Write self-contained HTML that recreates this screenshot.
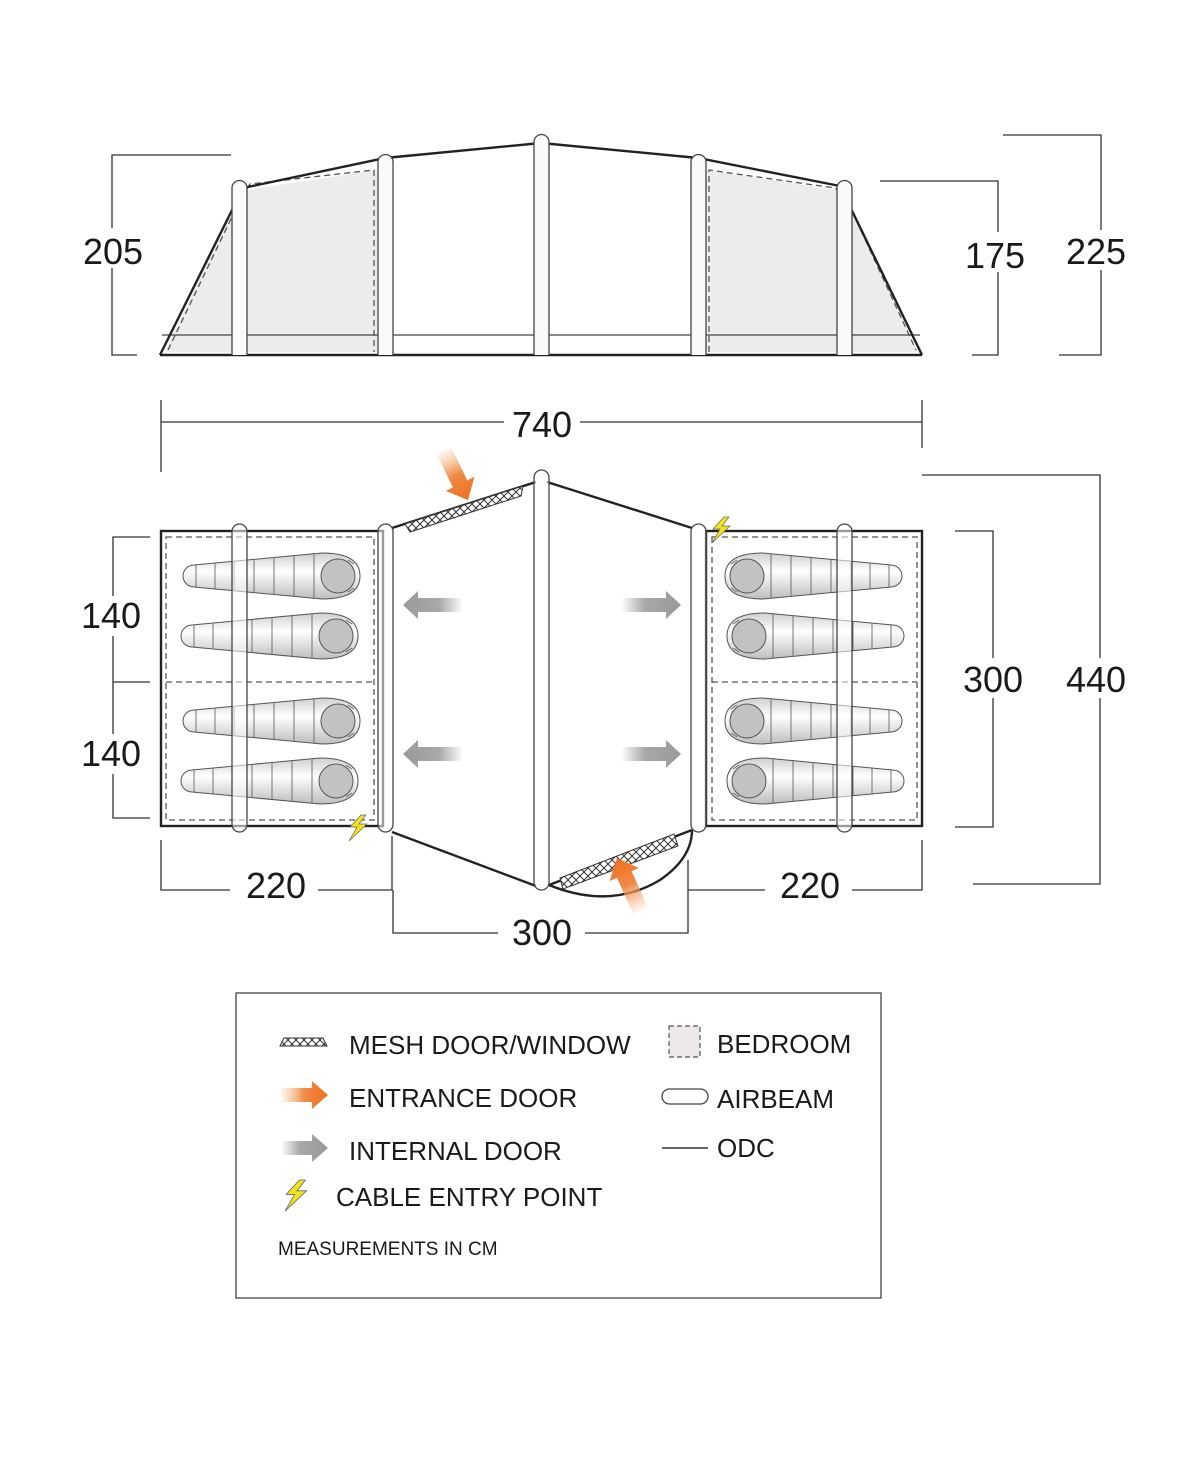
<!DOCTYPE html>
<html><head><meta charset="utf-8"><style>
html,body{margin:0;padding:0;background:#fff;}
svg{display:block;}
text{font-family:"Liberation Sans",sans-serif;fill:#1a1a1a;}
</style></head><body>
<svg width="1200" height="1464" viewBox="0 0 1200 1464" xmlns="http://www.w3.org/2000/svg">
<defs>
<linearGradient id="bagv" x1="0" y1="0" x2="0" y2="1"><stop offset="0" stop-color="#cfcfcf"/><stop offset="0.4" stop-color="#fff"/><stop offset="1" stop-color="#bdbdbd"/></linearGradient>
<linearGradient id="greyL" x1="0" y1="0" x2="1" y2="0"><stop offset="0" stop-color="#9a9a9a"/><stop offset="0.6" stop-color="#a8a8a8"/><stop offset="1" stop-color="#a8a8a8" stop-opacity="0"/></linearGradient>
<linearGradient id="greyR" x1="1" y1="0" x2="0" y2="0"><stop offset="0" stop-color="#9a9a9a"/><stop offset="0.6" stop-color="#a8a8a8"/><stop offset="1" stop-color="#a8a8a8" stop-opacity="0"/></linearGradient>
<linearGradient id="orR" x1="1" y1="0" x2="0" y2="0"><stop offset="0" stop-color="#ee6f1f"/><stop offset="0.5" stop-color="#f08a45"/><stop offset="1" stop-color="#f6b27f" stop-opacity="0.1"/></linearGradient>
<linearGradient id="orL" x1="0" y1="0" x2="1" y2="0"><stop offset="0" stop-color="#ee6f1f"/><stop offset="0.5" stop-color="#f08a45"/><stop offset="1" stop-color="#f6b27f" stop-opacity="0.1"/></linearGradient>
<pattern id="mesh" width="8" height="8" patternUnits="userSpaceOnUse">
<rect width="8" height="8" fill="#fff"/><path d="M0,0 L8,8 M8,0 L0,8" stroke="#333" stroke-width="1"/></pattern>
<g id="bag">
<path d="M12,-11 L140,-23 Q178,-23 178,0 Q178,23 140,23 L12,11 A11,11 0 0 1 12,-11 Z" fill="url(#bagv)" stroke="#555" stroke-width="1"/>
<g stroke="#666" stroke-width="0.9">
<line x1="14" y1="-11" x2="14" y2="11"/><line x1="33" y1="-13" x2="33" y2="13"/><line x1="52" y1="-15" x2="52" y2="15"/>
<line x1="72" y1="-17" x2="72" y2="17"/><line x1="92" y1="-19" x2="92" y2="19"/><line x1="112" y1="-21" x2="112" y2="21"/><line x1="132" y1="-22" x2="132" y2="22"/></g>
<circle cx="156" cy="0" r="17" fill="#c2c2c2" stroke="#555" stroke-width="1"/>
<path d="M166,-16 L172,-12 M166,16 L172,12" stroke="#666" stroke-width="0.9"/>
</g>
<g id="garrL"><path d="M403,0 L418,-14 L418,-7 L463,-7 L463,7 L418,7 L418,14 Z" fill="url(#greyL)"/></g>
<g id="bolt"><path d="M12,0 L1,12 L8,12 L0,26 L18,9 L10,9 L17,0 Z" fill="#f2e418" stroke="#666" stroke-width="0.7"/></g>
</defs>

<!-- ELEVATION -->
<path d="M165,352 L240,192 L247,190 L377,170 L377,352 Z" fill="#ececec"/>
<path d="M706,170 L837,190 L845,194 L918,352 L706,352 Z" fill="#ececec"/>
<path d="M168,350 L242,196 L250,184 L374,170 L374,352" fill="none" stroke="#555" stroke-width="1.3" stroke-dasharray="6,4"/>
<path d="M709,352 L709,170 L835,188 L846,198 L916,350" fill="none" stroke="#555" stroke-width="1.3" stroke-dasharray="6,4"/>
<line x1="162" y1="335" x2="920" y2="335" stroke="#444" stroke-width="1.2"/>
<path d="M160,355 L243,188 L385,158 L541,143 L698,158 L840,186 L922,355" fill="none" stroke="#222" stroke-width="2.4"/>
<line x1="160" y1="355" x2="922" y2="355" stroke="#222" stroke-width="2.4"/>
<g fill="#fafafa" stroke="#444" stroke-width="1.3">
<path d="M232,355 L232,188 A7.5,7.5 0 0 1 247,188 L247,355"/>
<path d="M378,355 L378,162 A7.5,7.5 0 0 1 393,162 L393,355"/>
<path d="M534,355 L534,142 A7.5,7.5 0 0 1 549,142 L549,355"/>
<path d="M691,355 L691,162 A7.5,7.5 0 0 1 706,162 L706,355"/>
<path d="M837,355 L837,188 A7.5,7.5 0 0 1 852,188 L852,355"/>
</g>

<!-- dims elevation -->
<g stroke="#333" stroke-width="1.3" fill="none">
<path d="M231,155 L112,155 L112,355 L137,355"/>
<path d="M880,181 L998,181 L998,355 L972,355"/>
<path d="M1003,135 L1101,135 L1101,355 L1059,355"/>
<path d="M161,400 L161,472 M922,400 L922,448 M161,422 L504,422 M580,422 L922,422"/>
</g>
<rect x="100" y="228" width="50" height="40" fill="#fff"/>
<text x="113" y="264" font-size="36" text-anchor="middle">205</text>
<rect x="975" y="232" width="50" height="40" fill="#fff"/>
<text x="995" y="268" font-size="36" text-anchor="middle">175</text>
<rect x="1070" y="230" width="55" height="40" fill="#fff"/>
<text x="1096" y="264" font-size="36" text-anchor="middle">225</text>
<text x="542" y="437" font-size="36" text-anchor="middle">740</text>

<!-- PLAN -->
<rect x="161" y="531" width="222" height="295" fill="#fff" stroke="#222" stroke-width="2.4"/>
<rect x="706" y="531" width="216" height="295" fill="#fff" stroke="#222" stroke-width="2.4"/>
<rect x="166" y="537" width="208" height="283" fill="none" stroke="#555" stroke-width="1.3" stroke-dasharray="6,4"/>
<line x1="166" y1="682" x2="374" y2="682" stroke="#555" stroke-width="1.3" stroke-dasharray="6,4"/>
<rect x="712" y="537" width="205" height="283" fill="none" stroke="#555" stroke-width="1.3" stroke-dasharray="6,4"/>
<line x1="712" y1="682" x2="917" y2="682" stroke="#555" stroke-width="1.3" stroke-dasharray="6,4"/>

<g transform="translate(182,576)"><use href="#bag"/></g>
<g transform="translate(180,636)"><use href="#bag"/></g>
<g transform="translate(182,721)"><use href="#bag"/></g>
<g transform="translate(180,781)"><use href="#bag"/></g>
<g transform="translate(903,576) scale(-1,1)"><use href="#bag"/></g>
<g transform="translate(905,636) scale(-1,1)"><use href="#bag"/></g>
<g transform="translate(903,721) scale(-1,1)"><use href="#bag"/></g>
<g transform="translate(905,781) scale(-1,1)"><use href="#bag"/></g>

<!-- walls -->
<g stroke="#222" stroke-width="2.4" fill="none">
<path d="M392,528 L536,482"/><path d="M547,482 L692,528"/>
<path d="M392,832 L536,886"/><path d="M549,885 L692,830"/>
<path d="M549,885 Q610,910 660,880 Q692,858 692,830"/>
</g>
<polygon points="405,524 523,486 521,496 410,532" fill="url(#mesh)" stroke="#333" stroke-width="1"/>
<polygon points="560,878 674,834 678,846 563,889" fill="url(#mesh)" stroke="#333" stroke-width="1"/>

<!-- beams plan -->
<g fill="#fff" fill-opacity="0.55" stroke="#444" stroke-width="1.3">
<rect x="232" y="524" width="15" height="308" rx="7.5"/>
<rect x="378" y="524" width="15" height="308" rx="7.5"/>
<rect x="534" y="470" width="15" height="420" rx="7.5"/>
<rect x="691" y="524" width="15" height="308" rx="7.5"/>
<rect x="837" y="524" width="15" height="308" rx="7.5"/>
</g>

<!-- grey arrows -->
<g transform="translate(0,605)"><use href="#garrL"/></g>
<g transform="translate(0,754)"><use href="#garrL"/></g>
<g transform="translate(1084,605) scale(-1,1)"><use href="#garrL"/></g>
<g transform="translate(1084,754) scale(-1,1)"><use href="#garrL"/></g>

<!-- orange arrows -->
<g transform="translate(468,500) rotate(-116)"><path d="M0,0 L18,-16 L18,-8 L55,-8 L55,8 L18,8 L18,16 Z" fill="url(#orL)"/></g>
<g transform="translate(617,858) rotate(66)"><path d="M0,0 L18,-16 L18,-8 L58,-8 L58,8 L18,8 L18,16 Z" fill="url(#orL)"/></g>

<g transform="translate(349,815)"><use href="#bolt"/></g>
<g transform="translate(712,517)"><use href="#bolt"/></g>

<!-- plan dims -->
<g stroke="#333" stroke-width="1.3" fill="none">
<path d="M150,537 L113,537 L113,818 L150,818 M113,682 L150,682"/>
<path d="M955,531 L993,531 L993,827 L955,827"/>
<path d="M922,475 L1100,475 L1100,884 L973,884"/>
<path d="M161,840 L161,890 L230,890 M318,890 L392,890 L392,836"/>
<path d="M688,860 L688,890 L765,890 M852,890 L922,890 L922,840"/>
<path d="M393,890 L393,933 L498,933 M585,933 L688,933 L688,890"/>
</g>
<rect x="90" y="596" width="48" height="40" fill="#fff"/>
<text x="111" y="628" font-size="36" text-anchor="middle">140</text>
<rect x="90" y="734" width="48" height="40" fill="#fff"/>
<text x="111" y="766" font-size="36" text-anchor="middle">140</text>
<rect x="960" y="658" width="66" height="40" fill="#fff"/>
<text x="993" y="692" font-size="36" text-anchor="middle">300</text>
<rect x="1066" y="658" width="66" height="40" fill="#fff"/>
<text x="1096" y="692" font-size="36" text-anchor="middle">440</text>
<text x="276" y="898" font-size="36" text-anchor="middle">220</text>
<text x="810" y="898" font-size="36" text-anchor="middle">220</text>
<text x="542" y="945" font-size="36" text-anchor="middle">300</text>

<!-- LEGEND -->
<rect x="236" y="993" width="645" height="305" fill="none" stroke="#444" stroke-width="1.3"/>
<polygon points="280,1046 284,1038 323,1038 327,1046" fill="url(#mesh)" stroke="#333" stroke-width="1"/>
<text x="349" y="1054" font-size="26">MESH DOOR/WINDOW</text>
<path d="M281,1088 L312,1088 L312,1081 L328,1095 L312,1109 L312,1102 L281,1102 Z" fill="url(#orR)"/>
<text x="349" y="1107" font-size="26">ENTRANCE DOOR</text>
<path d="M281,1141 L312,1141 L312,1134 L328,1148 L312,1162 L312,1155 L281,1155 Z" fill="url(#greyR)"/>
<text x="349" y="1160" font-size="26">INTERNAL DOOR</text>
<g transform="translate(285,1180) scale(1.2)"><use href="#bolt"/></g>
<text x="336" y="1206" font-size="26">CABLE ENTRY POINT</text>
<text x="278" y="1255" font-size="19">MEASUREMENTS IN CM</text>
<rect x="669" y="1026" width="31" height="31" fill="#ece8ea" stroke="#555" stroke-width="1.2" stroke-dasharray="5,3"/>
<text x="717" y="1053" font-size="26">BEDROOM</text>
<rect x="662" y="1089" width="46" height="15" rx="7.5" fill="#fff" stroke="#444" stroke-width="1.3"/>
<text x="717" y="1108" font-size="26">AIRBEAM</text>
<line x1="662" y1="1148" x2="708" y2="1148" stroke="#333" stroke-width="1.5"/>
<text x="717" y="1157" font-size="26">ODC</text>
</svg>
</body></html>
